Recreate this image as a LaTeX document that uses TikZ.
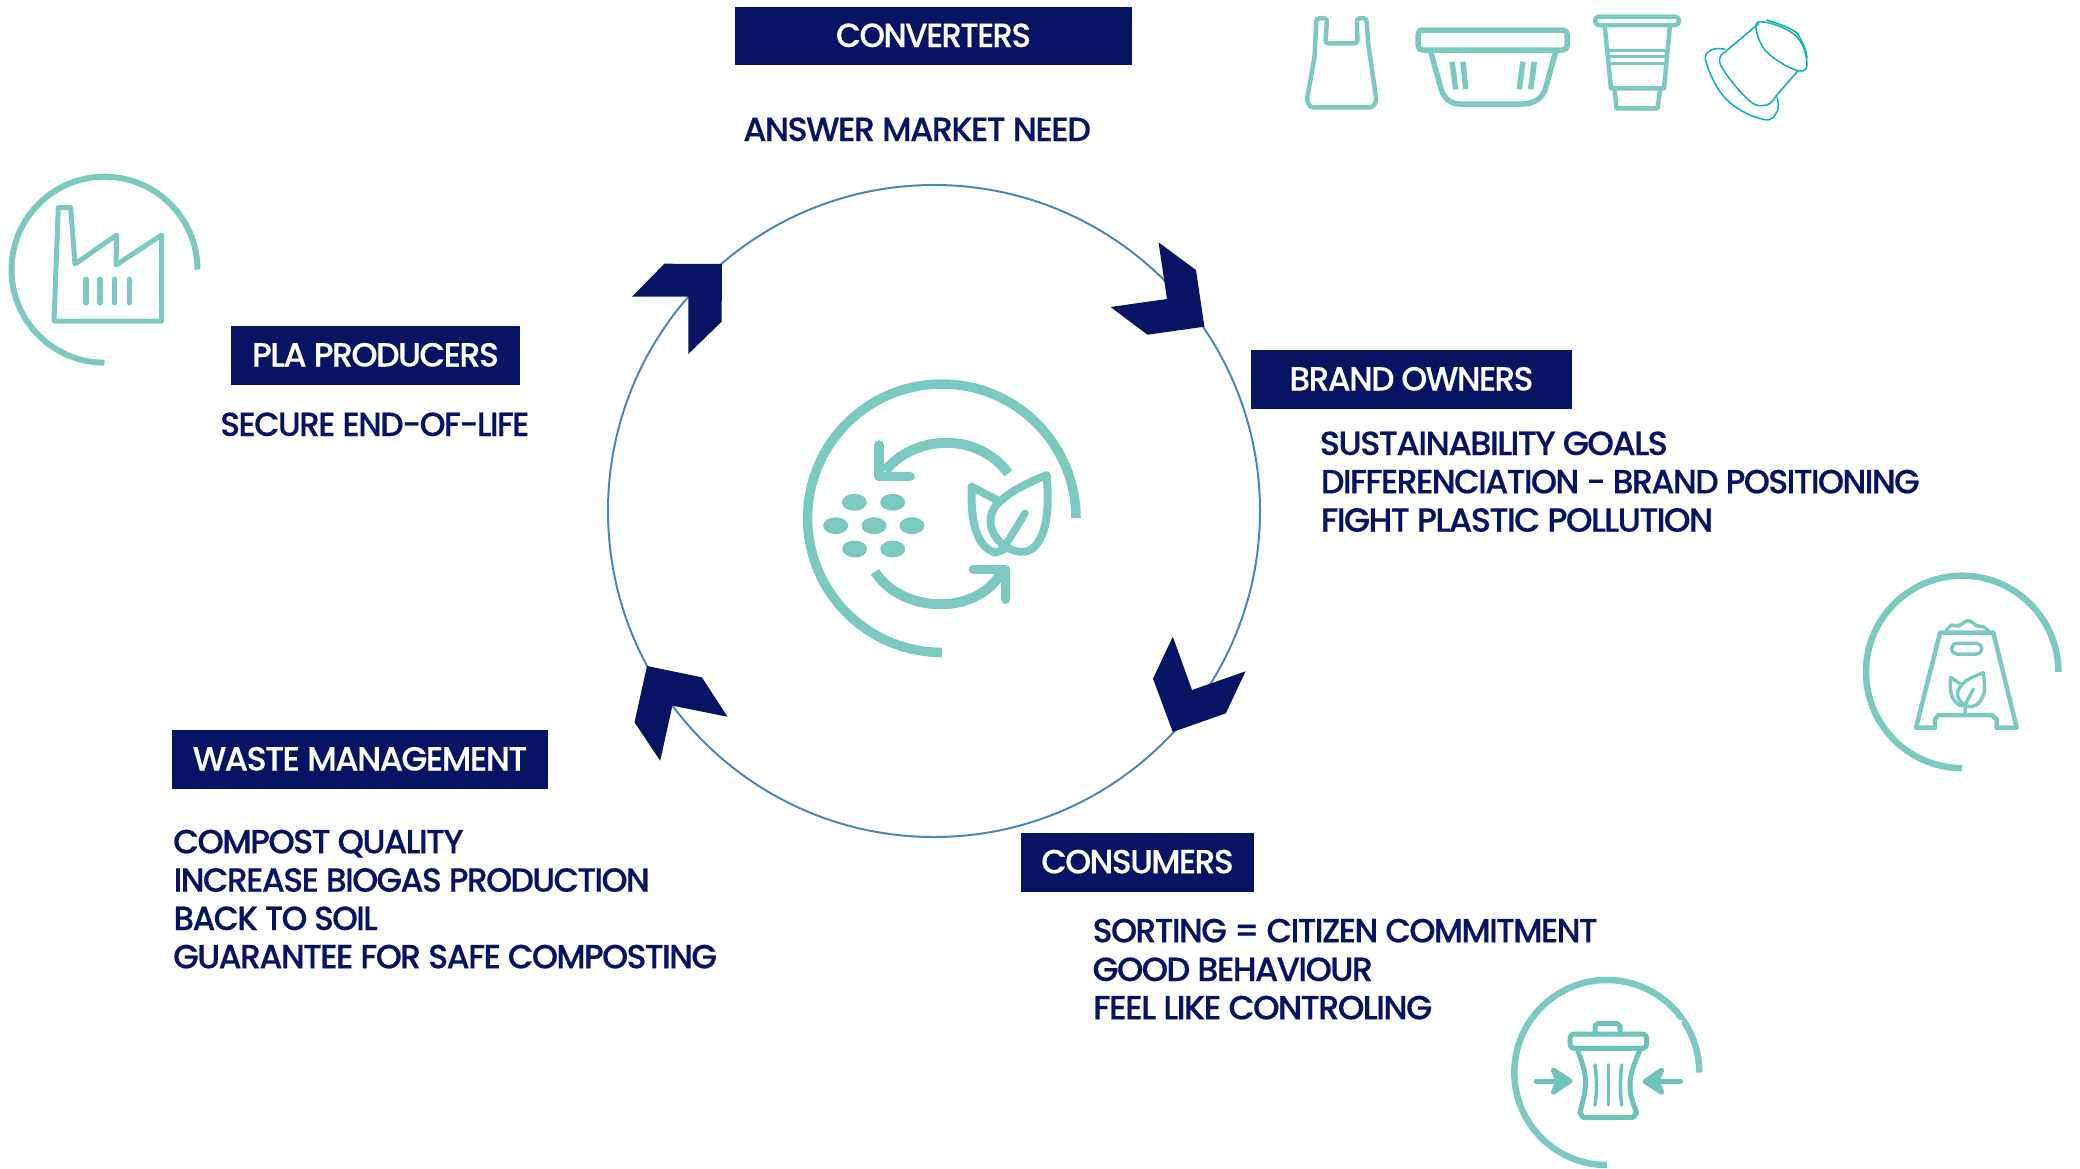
\documentclass[tikz,border=0pt]{standalone}
\usepackage{fontspec}
\usepackage{graphicx}
\setmainfont{Poppins}[UprightFont=* Medium,UprightFeatures={FakeBold=0.12},LetterSpace=-5]
\newfontface\bodyface{Poppins Medium}[LetterSpace=-5,FakeBold=0.3]
\definecolor{navy}{HTML}{071464}
\definecolor{teal}{HTML}{7CC9C1}
\definecolor{tealdk}{HTML}{6DC2BA}
\definecolor{capsule}{HTML}{12B6AD}
\definecolor{ringblue}{HTML}{4C88AB}
\newcommand{\fitw}[2]{\resizebox{#1pt}{\height}{#2}}
\newcommand{\ringicon}[4]{\draw[teal,line width=#4pt] (#1+#3,#2) arc[start angle=0,end angle=-270,radius=#3];}
\tikzset{
  x=1pt,y=-1pt,
  every node/.style={font=\fontsize{33.5}{40}\selectfont},
  headbox/.style={fill=navy,text=white,inner sep=0pt,text height=22pt,text depth=0pt,align=center},
  bodytext/.style={anchor=base west,inner sep=0pt,text=navy,font=\fontsize{33.5}{40}\bodyface},
  arrowmark/.style={fill=navy,draw=none},
  icon/.style={draw=teal,line width=#1pt,line join=round,line cap=round,fill=none},
  icon/.default=4,
  seed/.style={fill=teal,draw=none},
}
\begin{document}
\begin{tikzpicture}
\useasboundingbox (0,0) rectangle (2080,1168);
% main cycle
\draw[ringblue,line width=2pt] (934,511) circle[radius=326];
\fill[arrowmark] (722,264) -- (664.4,263.7) -- (632,296.7) -- (688.4,296.7) -- (688.4,354) -- (721.6,321.7) -- cycle;
\fill[arrowmark] (1158.5,242.3) -- (1196,270) -- (1204.4,326.7) -- (1147.5,334.7) -- (1110.5,307) -- (1167,299) -- cycle;
\fill[arrowmark] (1172.8,636.7) -- (1192,690) -- (1245.6,671.3) -- (1225.8,713.3) -- (1172.8,732) -- (1153,678.7) -- cycle;
\fill[arrowmark] (647,666) -- (701.9,677.3) -- (727.5,716.7) -- (672.4,705.7) -- (660.2,760.7) -- (634.5,722.3) -- cycle;
% headers
\node[headbox,minimum width=397pt,minimum height=58pt] (conv) at (933.5,36) {\fitw{195}{CONVERTERS}};
\node[headbox,minimum width=289pt,minimum height=59pt] (pla) at (375.5,355.5) {\fitw{247}{PLA PRODUCERS}};
\node[headbox,minimum width=321pt,minimum height=59pt] (brand) at (1411.5,379.5) {\fitw{244}{BRAND OWNERS}};
\node[headbox,minimum width=233pt,minimum height=59pt] (cons) at (1137.5,862.3) {\fitw{192.5}{CONSUMERS}};
\node[headbox,minimum width=376pt,minimum height=59pt] (waste) at (360,759.5) {\fitw{334.6}{WASTE MANAGEMENT}};
% body texts
\node[bodytext] (t1) at (743,141) {\fitw{347.7}{ANSWER MARKET NEED}};
\node[bodytext] (t2) at (220,436) {\fitw{309.3}{SECURE END-OF-LIFE}};
\node[bodytext] (t3) at (1319.4,455) {\fitw{348.3}{SUSTAINABILITY GOALS}};
\node[bodytext] (t4) at (1320.7,493.3) {\fitw{598.8}{DIFFERENCIATION - BRAND POSITIONING}};
\node[bodytext] (t5) at (1320.7,531.7) {\fitw{392.3}{FIGHT PLASTIC POLLUTION}};
\node[bodytext] (t6) at (1092.4,942.3) {\fitw{505}{SORTING = CITIZEN COMMITMENT}};
\node[bodytext] (t7) at (1092.4,981) {\fitw{280.4}{GOOD BEHAVIOUR}};
\node[bodytext] (t8) at (1093,1019.3) {\fitw{339}{FEEL LIKE CONTROLING}};
\node[bodytext] (t9) at (173,853.3) {\fitw{290.4}{COMPOST QUALITY}};
\node[bodytext] (t10) at (173.4,891.7) {\fitw{476.1}{INCREASE BIOGAS PRODUCTION}};
\node[bodytext] (t11) at (173.4,930) {\fitw{204.1}{BACK TO SOIL}};
\node[bodytext] (t12) at (173,968.3) {\fitw{543.8}{GUARANTEE FOR SAFE COMPOSTING}};
% factory icon
\ringicon{104.5}{269.7}{93}{6}
\draw[icon=5] (58.3,207.7) -- (70.7,207.7) -- (75,264) -- (116.7,235) -- (116,265) -- (161.7,235) -- (161.7,321) -- (54,321) -- cycle;
\foreach \bx in {86,100,114.7,129.3} \draw[icon=5.5] (\bx,279.3) -- (\bx,302.7);
% centre icon
\ringicon{941.8}{518.2}{134.2}{9.5}
\draw[teal,line width=10pt] (1008.3,473.3) .. controls (978,432) and (915,434) .. (885,471);
\draw[icon=9.5] (879,445) -- (879,476.7) -- (910,476.7);
\draw[teal,line width=10pt] (875,571.7) .. controls (900,612) and (975,618) .. (1002,572);
\draw[icon=9.5] (973.3,569.3) -- (1005.7,569.3) -- (1005.7,599.3);
\foreach \sx/\sy in {854.3/502.3,892.7/502.3,835.7/525.7,874/525.7,912/525.7,854.7/549,892.7/549}
  \fill[seed] (\sx,\sy) ellipse[x radius=12.5,y radius=8.5];
\draw[icon=8] (1046.7,475) .. controls (1025,484) and (1010,492) .. (1001.7,500) .. controls (988,510) and (985,530) .. (1003.3,545) .. controls (1012,552) and (1028,556) .. (1036,545) .. controls (1048,530) and (1049,505) .. cycle;
\draw[icon=7.5] (1025,513.3) -- (1006.7,543.3);
\draw[icon=8] (971.7,486.7) -- (1000,501.7);
\draw[icon=8] (971.7,486.7) .. controls (971,510) and (972,545) .. (995,552.7) -- (1003,550);
% product icons
\draw[icon=4.5,rounded corners=3pt] (1316.4,18.3) -- (1327,18.3) -- (1325.4,43.3) -- (1357.5,43.3) -- (1356.8,18.3) -- (1366.4,18.3) -- (1368.2,43.3) -- (1376.4,100) -- (1373,107.3) -- (1310,107.3) -- (1306.8,100) -- (1314.6,56.7) -- cycle;
\draw[icon=5.5,rounded corners=4pt] (1418.2,50) -- (1418.2,30) -- (1567,30) -- (1567,50) -- cycle;
\draw[icon=5.5] (1430.7,51.7) -- (1441.4,90) .. controls (1445,100) and (1452,104) .. (1460,104) -- (1522,104) .. controls (1532,104) and (1541,100) .. (1545,90) -- (1555.7,51.7);
\draw[teal,line width=5.5pt] (1452,61.7) -- (1455.7,89.3) (1462.9,61.7) -- (1465.7,89.3) (1522.9,61.7) -- (1519.3,89.3) (1534.3,61.7) -- (1530.7,89.3);
\draw[icon=4.5,rounded corners=4pt] (1595,16.5) rectangle (1679,25);
\draw[icon=4.5] (1604.6,25) -- (1611,88.3) -- (1664,88.3) -- (1670,25);
\draw[teal,line width=3pt] (1608.6,50) -- (1665.7,50) (1609.6,56.5) -- (1665,56.5) (1610,63.5) -- (1664.6,63.5);
\draw[icon=4.5] (1614.6,90) -- (1616.4,108.3) -- (1657.5,108.3) -- (1660,90);
% capsule
\begin{scope}[capsule,line width=1.6pt,line join=round]
\draw plot[smooth cycle,tension=0.7] coordinates {(1760.7,21.7) (1795,35) (1806.8,61.7) (1798.6,70.7) (1770,55) (1757.5,35)};
\draw (1766,20) .. controls (1778,23) and (1790,28) .. (1797,33) .. controls (1803,42) and (1806,50) .. (1807,58);
\draw (1759,23.3) -- (1725.4,51.7);
\draw (1798,70.7) -- (1775.4,96.7);
\draw plot[smooth,tension=0.7] coordinates {(1725.4,51.7) (1720.7,65) (1748.6,100) (1766.4,105) (1775.4,96.7)};
\draw plot[smooth,tension=0.7] coordinates {(1725.4,49.3) (1711,50) (1706.4,63.3) (1727,100) (1763,119.3) (1777,111.7) (1777,96.7)};
\end{scope}
% bag of compost icon
\ringicon{1962.2}{671.9}{96.2}{6.5}
\draw[icon=4.5,line cap=butt] (1916,727.7) -- (1935,727.7) -- (1935,719.3) -- (1938.3,715) -- (1991.7,715) -- (1996.7,719.3) -- (1996.7,727.7) -- (2016.7,727.7) -- (1993.3,632.7) -- (1940,632.7) -- cycle;
\draw[icon=3.5,rounded corners=5pt] (1951.7,643.3) rectangle (1981.7,654);
\draw[icon=3.5] plot[smooth,tension=0.6] coordinates {(1946,630.7) (1951.7,625) (1958,626) (1968.3,620.7) (1976.7,625.7) (1983.3,626.7) (1988.3,630.7)};
\draw[icon=3.5] (1983.3,672.7) .. controls (1972,677) and (1964,681) .. (1961.7,685) .. controls (1955,692) and (1956,700) .. (1966.7,706) .. controls (1974,708) and (1980,705) .. (1984,693.3) .. controls (1985,685) and (1984,678) .. cycle;
\draw[icon=3.5] (1950.7,677.3) -- (1961.7,685);
\draw[icon=3.5] (1950.7,677.3) .. controls (1949,692) and (1952,703) .. (1962,706);
\draw[icon=3.5] (1973.3,689.3) -- (1965,705) -- (1965,715);
% trash icon
\ringicon{1606.8}{1072.5}{92.5}{6.5}
\fill[white] (1534.3,1020) rectangle (1681.7,1120);
\draw[icon=5,draw=tealdk,rounded corners=4pt] (1570,1034) rectangle (1646.7,1048.3);
\draw[icon=5,draw=tealdk] (1595,1034) -- (1595,1026) -- (1598,1023.3) -- (1617,1023.3) -- (1620,1026) -- (1620,1034);
\draw[icon=5,draw=tealdk] (1577.3,1049.3) .. controls (1583,1065) and (1587,1075) .. (1585,1090) .. controls (1584,1100) and (1581,1106) .. (1580,1113) -- (1583,1117.3) -- (1633,1117.3) -- (1636.7,1113) .. controls (1634,1105) and (1630,1098) .. (1630,1085) .. controls (1630,1072) and (1635,1063) .. (1640,1049.3);
\draw[icon=3.5,draw=tealdk] (1595,1065) .. controls (1597,1078) and (1597,1092) .. (1595,1105);
\draw[icon=3.5,draw=tealdk] (1608.3,1065) -- (1608.3,1105);
\draw[icon=3.5,draw=tealdk] (1621.7,1065) .. controls (1620,1078) and (1620,1092) .. (1621.7,1105);
\draw[icon=5,draw=tealdk] (1536,1081) -- (1568,1081);
\draw[icon=5,draw=tealdk,fill=tealdk] (1553.3,1070) -- (1570,1081) -- (1553.3,1092.3) -- (1558,1081) -- cycle;
\draw[icon=5,draw=tealdk] (1680.5,1081) -- (1648,1081);
\draw[icon=5,draw=tealdk,fill=tealdk] (1661.7,1070) -- (1645,1081.5) -- (1661.7,1092.3) -- (1657,1081) -- cycle;
\end{tikzpicture}
\end{document}
